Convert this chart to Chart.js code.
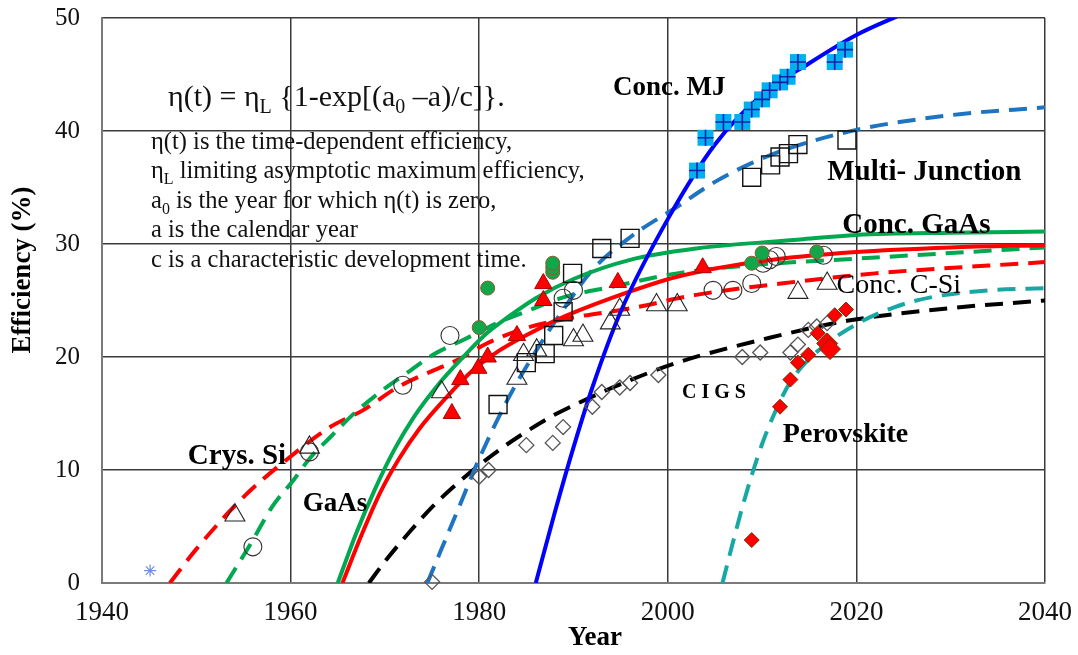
<!DOCTYPE html>
<html>
<head>
<meta charset="utf-8">
<script src="https://cdn.jsdelivr.net/npm/chart.js@4.4.1/dist/chart.umd.min.js"></script>
<style>
  html, body { margin: 0; padding: 0; background: #fff; }
</style>
</head>
<body>
<canvas id="chart" width="1078" height="655"></canvas>
<script>
// ---- fitted curves ----
const crysSiFitX = [1947.2, 1950, 1955, 1960, 1964.2, 1967.7, 1971.3, 1974, 1977.6, 1980.8, 1985.1, 1990, 1996, 2003, 2012, 2022, 2040];
const crysSiFitY = [0, 3, 7.6, 11.2, 13.8, 15.3, 17.3, 18.4, 19.7, 21.2, 22.6, 23.5, 24.3, 25.5, 26.5, 27.4, 28.4];

const gaAsFitX = [1953.2, 1956, 1958, 1960.3, 1962, 1964.2, 1966.6, 1969.8, 1972.7, 1975.1, 1978.3, 1981.9, 1984.6, 1989, 1994, 2001, 2010, 2020, 2030, 2040];
const gaAsFitY = [0, 3.8, 6.7, 9.1, 11, 12.9, 14.9, 17.1, 18.8, 20.2, 21.5, 23, 23.9, 25.3, 26.2, 27.4, 28.2, 28.7, 29.2, 29.7];

const concSiFitX = [1965.5, 1967.5, 1969.5, 1971.5, 1973.7, 1976.6, 1979.3, 1982, 1985.4, 1988, 1994, 2001, 2010, 2020, 2030, 2040];
const concSiFitY = [0, 4.2, 8, 11, 13.7, 16.5, 18.8, 20.5, 22.1, 23.2, 25.2, 27.1, 28.5, 29.3, 29.7, 29.9];

const concGaAsFitX = [1965, 1967, 1969, 1971, 1973, 1975.8, 1978.3, 1980.8, 1983, 1986, 1990, 1996, 2003, 2014, 2020, 2030, 2040];
const concGaAsFitY = [0, 4.5, 8.4, 11.8, 14.6, 17.7, 20, 22.1, 23.5, 25.2, 26.9, 28.6, 29.6, 30.4, 30.8, 31, 31.1];

const cigsFitX = [1968.3, 1970, 1972.7, 1975.1, 1977.4, 1979.8, 1982.5, 1985, 1987.8, 1990.7, 1995, 2001, 2010.8, 2019, 2029.6, 2040];
const cigsFitY = [0, 1.9, 4.6, 6.8, 8.6, 10.3, 12, 13.4, 14.8, 16, 17.6, 19.5, 21.7, 23.2, 24.3, 25];

const mjFitX = [1974.5, 1976, 1978, 1980, 1983, 1986, 1989, 1992, 1996, 2001, 2005, 2009, 2013, 2020, 2030, 2040];
const mjFitY = [0, 3, 7, 11, 16.2, 20.5, 24.3, 27.7, 30.6, 33.3, 35.5, 37.2, 38.5, 40.1, 41.4, 42.1];

const concMjFitX = [1986, 1988, 1990, 1992, 1995, 2000, 2005, 2010, 2015, 2020, 2025];
const concMjFitY = [0, 6.2, 12, 17.3, 24, 32.2, 38.8, 43.2, 46, 48.5, 50.4];

const perovFitX = [2005.8, 2007, 2008, 2009, 2010, 2011.2, 2013, 2016, 2020, 2024, 2028, 2034, 2040];
const perovFitY = [0, 3.9, 7, 9.8, 12.3, 14.8, 17.8, 20.6, 22.9, 24.4, 25.3, 25.9, 26.1];

// ---- record efficiencies ----
const crysSiX = [1956, 1962, 1971.9, 1976.9, 1988.9, 1990, 2004.8, 2006.9, 2008.9, 2010.1, 2010.8, 2011.5, 2016.5];
const crysSiY = [3.2, 11.6, 17.5, 21.9, 25.2, 25.9, 25.9, 25.9, 26.5, 28.3, 28.6, 28.9, 29];

const gaAsX = [1954.1, 1962, 1976, 1984, 1984.7, 1986.1, 1990, 1991, 1993.9, 1994.9, 1998.8, 2001, 2013.8, 2016.9];
const gaAsY = [6, 12, 16.9, 18.1, 20.2, 20.6, 21.5, 21.9, 23, 24.2, 24.6, 24.6, 25.7, 26.5];

const concSiX = [1977.1, 1978, 1979.9, 1980.9, 1984, 1986.8, 1986.8, 1994.7, 2003.7];
const concSiY = [15, 18, 19, 20, 21.9, 25, 26.5, 26.6, 27.9];

const concGaAsX = [1980, 1980.9, 1987.8, 1987.8, 1987.8, 2008.9, 2010, 2015.8];
const concGaAsY = [22.6, 26.1, 27.5, 27.9, 28.3, 28.3, 29.2, 29.3];

const mjX = [1982, 1985, 1987, 1987.9, 1988.9, 1989.9, 1993, 1996, 2008.9, 2010.9, 2011.9, 2012.8, 2013.8, 2019];
const mjY = [15.8, 19.5, 20.3, 21.9, 24, 27.4, 29.6, 30.5, 35.9, 37, 37.7, 38, 38.8, 39.2];

const concMjX = [2003.1, 2004, 2005.9, 2007.9, 2008.9, 2010, 2010.8, 2011.9, 2012.7, 2013.8, 2017.7, 2018.8];
const concMjY = [36.5, 39.4, 40.8, 40.8, 41.9, 42.8, 43.6, 44.3, 44.8, 46.1, 46.1, 47.2];

const cigsX = [1975, 1980, 1981, 1985, 1987.8, 1988.9, 1992, 1993, 1994.9, 1996, 1999, 2007.9, 2009.8, 2013, 2013.8, 2014.9, 2015.8, 2016.9];
const cigsY = [0.1, 9.4, 10, 12.2, 12.4, 13.8, 15.6, 16.9, 17.3, 17.7, 18.4, 20, 20.4, 20.4, 21.1, 22.4, 22.7, 23];

const perovX = [2008.9, 2011.9, 2013, 2013.8, 2014.9, 2015.9, 2016.9, 2017.2, 2017.7, 2018.9];
const perovY = [3.8, 15.6, 18, 19.5, 20.2, 22.1, 21.2, 20.7, 23.7, 24.2];

const earlyX = [1945.1];
const earlyY = [1.1];

const xTicks = [1940, 1960, 1980, 2000, 2020, 2040];
const yTicks = [0, 10, 20, 30, 40, 50];

const SERIF = "'Liberation Serif', 'Times New Roman', serif";

function pts(xs, ys) {
  return xs.map((x, i) => ({ x: x, y: ys[i] }));
}

function curve(xs, ys, color, dash) {
  return {
    data: pts(xs, ys),
    showLine: true,
    borderColor: color,
    borderWidth: 4,
    borderDash: dash ? [18, 10] : [],
    pointRadius: 0,
    cubicInterpolationMode: 'monotone',
    fill: false,
    clip: 0
  };
}

function marks(xs, ys, style, radius, fill, stroke, width) {
  return {
    data: pts(xs, ys),
    showLine: false,
    pointStyle: style,
    pointRadius: radius,
    backgroundColor: fill,
    borderColor: stroke,
    borderWidth: width,
    clip: false
  };
}

// text: parts are strings, or [string] for a subscript
function drawRich(ctx, parts, x, y, size, weight) {
  let cx = x;
  parts.forEach(p => {
    const sub = Array.isArray(p);
    const txt = sub ? p[0] : p;
    const fs = sub ? Math.round(size * 0.66) : size;
    ctx.font = `${weight} ${fs}px ${SERIF}`;
    ctx.fillText(txt, cx, sub ? y + size * 0.24 : y);
    cx += ctx.measureText(txt).width;
  });
}

const notesPlugin = {
  id: 'notes',
  afterDraw(chart) {
    const ctx = chart.ctx;
    const xs = chart.scales.x, ys = chart.scales.y;
    const X = v => xs.getPixelForValue(v);
    const Y = v => ys.getPixelForValue(v);
    ctx.save();
    ctx.fillStyle = '#111';
    ctx.textBaseline = 'alphabetic';
    ctx.textAlign = 'left';

    // equation + explanation
    drawRich(ctx, ['η(t) = η', ['L'], ' {1-exp[(a', ['0'], ' –a)/c]}.'], X(1947.0), Y(42.2), 30, 'normal');
    drawRich(ctx, ['η(t) is the time-dependent efficiency,'], X(1945.2), Y(38.4), 24.5, 'normal');
    drawRich(ctx, ['η', ['L'], ' limiting asymptotic maximum efficiency,'], X(1945.2), Y(35.8), 24.5, 'normal');
    drawRich(ctx, ['a', ['0'], ' is the year for which η(t) is zero,'], X(1945.2), Y(33.2), 24.5, 'normal');
    drawRich(ctx, ['a is the calendar year'], X(1945.2), Y(30.6), 24.5, 'normal');
    drawRich(ctx, ['c is a characteristic development time.'], X(1945.2), Y(28.0), 24.5, 'normal');

    // series labels
    ctx.fillStyle = '#000';
    drawRich(ctx, ['Conc. MJ'], X(1994.2), Y(43.2), 27, 'bold');
    drawRich(ctx, ['Multi- Junction'], X(2016.9), Y(35.7), 29, 'bold');
    drawRich(ctx, ['Conc. GaAs'], X(2018.5), Y(31.0), 29, 'bold');
    drawRich(ctx, ['Conc. C-Si'], X(2017.9), Y(25.7), 28, 'normal');
    drawRich(ctx, ['Perovskite'], X(2012.2), Y(12.5), 28, 'bold');
    drawRich(ctx, ['Crys. Si'], X(1949.1), Y(10.5), 29, 'bold');
    drawRich(ctx, ['GaAs'], X(1961.3), Y(6.4), 27, 'bold');
    ctx.letterSpacing = '5px';
    drawRich(ctx, ['CIGS'], X(2001.5), Y(16.4), 20, 'bold');
    ctx.letterSpacing = '0px';

    // axis titles
    ctx.font = `bold 27px ${SERIF}`;
    ctx.textAlign = 'center';
    ctx.textBaseline = 'middle';
    ctx.fillText('Year', 595, 638);
    ctx.translate(23, 270);
    ctx.rotate(-Math.PI / 2);
    ctx.fillText('Efficiency (%)', 0, 0);
    ctx.restore();
  }
};

new Chart(document.getElementById('chart'), {
  type: 'scatter',
  data: {
    datasets: [
      marks(earlyX, earlyY, 'star', 6, 'transparent', '#6f8fe0', 1.2),
      marks(concMjX, concMjY, 'cross', 8, 'transparent', '#1020a8', 1.6),
      marks(concMjX, concMjY, 'rect', 11.3, '#00b0f0', '#00b0f0', 0),
      marks(perovX, perovY, 'rectRot', perovX.map((x, i) => (i === 6 || i === 7) ? 10.5 : 7.5), '#ff0000', '#7a3000', 1),
      marks(cigsX, cigsY, 'rectRot', 7.5, 'transparent', '#555', 1.3),
      marks(concGaAsX, concGaAsY, 'circle', 7, '#12a64a', '#8a5a2a', 1),
      marks(concSiX, concSiY, 'triangle', 10, '#ff0000', '#b00000', 1),
      marks(gaAsX, gaAsY, 'triangle', 11.5, 'transparent', '#222', 1.1),
      marks(crysSiX, crysSiY, 'circle', 9, 'transparent', '#333', 1.1),
      marks(mjX, mjY, 'rect', 12.7, 'transparent', '#111', 1.4),
      curve(concMjFitX, concMjFitY, '#0000ff', false),
      curve(concGaAsFitX, concGaAsFitY, '#00a84f', false),
      curve(concSiFitX, concSiFitY, '#ff0000', false),
      curve(mjFitX, mjFitY, '#1f74c2', true),
      curve(perovFitX, perovFitY, '#17a8a4', true),
      curve(cigsFitX, cigsFitY, '#000000', true),
      curve(gaAsFitX, gaAsFitY, '#00a84f', true),
      curve(crysSiFitX, crysSiFitY, '#ff0000', true)
    ]
  },
  options: {
    responsive: false,
    animation: false,
    events: [],
    devicePixelRatio: 1,
    layout: { padding: { left: 0, top: 18, right: 33, bottom: 0 } },
    plugins: {
      legend: { display: false },
      tooltip: { enabled: false }
    },
    scales: {
      x: {
        type: 'linear',
        min: xTicks[0],
        max: xTicks[xTicks.length - 1],
        afterFit: s => { s.height = 72; s.paddingLeft = 0; s.paddingRight = 0; },
        afterBuildTicks: s => { s.ticks = xTicks.map(v => ({ value: v })); },
        ticks: {
          color: '#111',
          font: { family: SERIF, size: 27 },
          padding: 14,
          callback: v => String(v)
        },
        grid: { color: '#3a3a3a', lineWidth: 1.5, drawTicks: false },
        border: { color: '#7a7a7a', width: 2 }
      },
      y: {
        type: 'linear',
        min: yTicks[0],
        max: yTicks[yTicks.length - 1],
        afterFit: s => { s.width = 102; s.paddingTop = 0; s.paddingBottom = 0; },
        afterBuildTicks: s => { s.ticks = yTicks.map(v => ({ value: v })); },
        ticks: {
          color: '#111',
          font: { family: SERIF, size: 25 },
          padding: 22,
          callback: v => String(v)
        },
        grid: { color: '#3a3a3a', lineWidth: 1.5, drawTicks: false },
        border: { color: '#7a7a7a', width: 2 }
      }
    }
  },
  plugins: [notesPlugin]
});
</script>
</body>
</html>
